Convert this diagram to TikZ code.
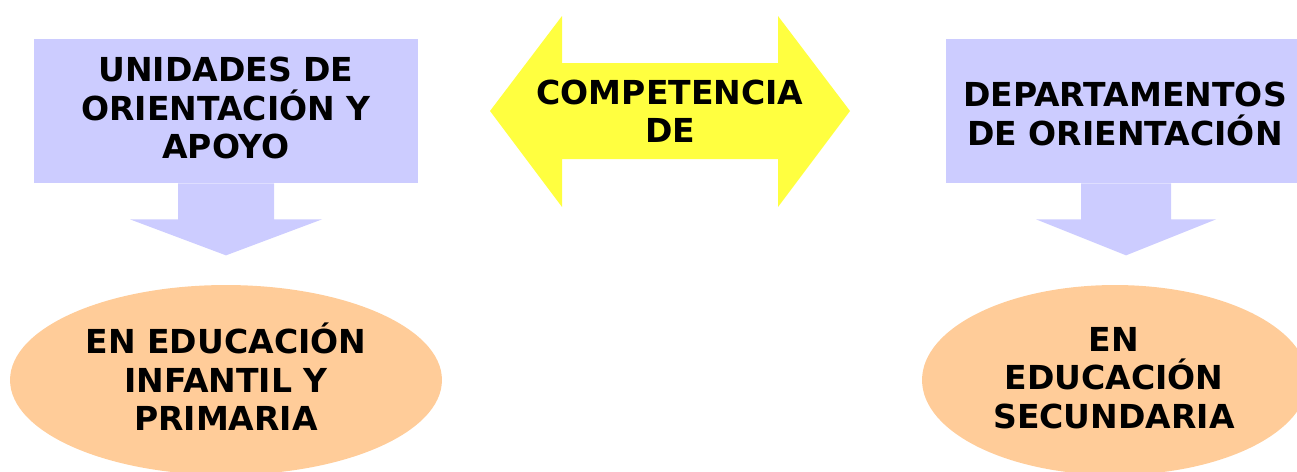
\documentclass[tikz,border=0pt]{standalone}
\usepackage{fontspec}
\setmainfont{DejaVu Sans}[BoldFont={DejaVu Sans Bold}]
\usepackage{tikz}
\usetikzlibrary{shapes.geometric, positioning}
\definecolor{lavbox}{HTML}{CCCCFF}
\definecolor{peach}{HTML}{FFCC99}
\definecolor{lemon}{HTML}{FFFF40}

\begin{document}
\begin{tikzpicture}[
    x=0.02cm, y=-0.02cm,
    font=\fontsize{18.8}{21.9}\selectfont\bfseries,
    callout/.style={fill=lavbox, inner sep=0pt, align=center},
    stage/.style={ellipse, fill=peach, inner sep=0pt, align=center},
    label/.style={align=center, inner sep=0pt}
]
\clip (0,0) rectangle (1297,471);

% Boxes
\node[callout, minimum width=7.68cm, minimum height=2.88cm] (uoa) at (226,111) {};
\node[callout, minimum width=7.2cm, minimum height=2.88cm] (dpto) at (1126,111) {};

% Down arrows under the boxes
\fill[lavbox] (uoa.south) ++(-48,0) -- ++(0,36) -- ++(-48,0) -- ++(96,36)
    -- ++(96,-36) -- ++(-48,0) -- ++(0,-36) -- cycle;
\fill[lavbox] (dpto.south) ++(-45,0) -- ++(0,36) -- ++(-45,0) -- ++(90,36)
    -- ++(90,-36) -- ++(-45,0) -- ++(0,-36) -- cycle;

% Double arrow
\fill[lemon] (490,111) -- (562,16) -- (562,63) -- (778,63) -- (778,16)
    -- (850,111) -- (778,207) -- (778,159) -- (562,159) -- (562,207) -- cycle;

% Stages
\node[stage, minimum width=8.64cm, minimum height=3.8cm] (infantil) at (226,380) {};
\node[stage, minimum width=7.72cm, minimum height=3.8cm] (secundaria) at (1115,380) {};

% Texts
\node[label] (uoatxt) at (226,108) {UNIDADES DE\\ORIENTACIÓN Y\\APOYO};
\node[label] (dptotxt) at (1125,114) {DEPARTAMENTOS\\DE ORIENTACIÓN};
\node[label] (comp) at (670,111) {COMPETENCIA\\DE};
\node[label] (infantiltxt) at (226,377) {EN EDUCACIÓN\\INFANTIL Y\\PRIMARIA};
\node[label] (secundariatxt) at (1114,378) {EN\\EDUCACIÓN\\SECUNDARIA};

\end{tikzpicture}
\end{document}
